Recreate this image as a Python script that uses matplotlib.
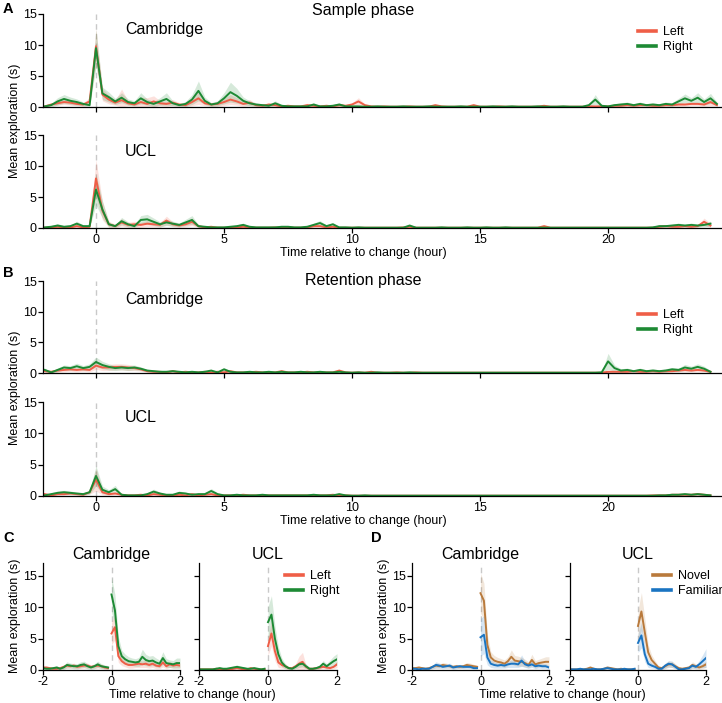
import numpy as np
import matplotlib
matplotlib.use("Agg")
import matplotlib.pyplot as plt
from matplotlib.lines import Line2D

plt.rcParams['font.family'] = ['Liberation Sans', 'DejaVu Sans']
plt.rcParams['axes.unicode_minus'] = False

nan = float('nan')

# ---------------- time grids ----------------
t_long = np.round(np.arange(-2.0, 24.26, 0.25), 2)   # 106 bins (hours)
t_pre = np.round(np.arange(-2.0, -0.05, 0.1), 2)     # 20 bins
t_post = np.round(np.arange(0.0, 2.01, 0.1), 2)      # 21 bins

long_ticks = [0, 5, 10, 15, 20]
short_ticks = [-2, 0, 2]
y_ticks = [0, 5, 10, 15]

# ---------------- Panel A: sample phase, Cambridge ----------------
a_cam_left = [0.1, 0.4, 0.6, 0.8, 0.7, 0.5, 0.4, 0.9,
              9.8, 2.0, 1.2, 0.7, 1.1, 0.6, 0.4, 0.8, 0.5, 0.9, 0.6, 0.5, 0.7, 0.4, 0.3, 0.8, 1.4, 0.6, 0.4, 0.5,
              0.8, 1.2, 0.9, 0.5, 0.7, 0.3, 0.2, 0.4, 0.3, 0.1, 0.2, 0.1, 0.1, 0.3, 0.2, 0.1, 0.2, 0.1, 0.3, 0.2,
              0.4, 0.9, 0.3, 0.1, 0.05, 0.1, 0.05, 0.05, 0.05, 0.1, 0.05, 0.05, 0.05, 0.3, 0.1, 0.05, 0.05, 0.05, 0.05, 0.3,
              0.05, 0.05, 0.05, 0.1, 0.05, 0.05, 0.05, 0.05, 0.05, 0.05, 0.2, 0.05, 0.05, 0.05, 0.05, 0.05, 0.05, 0.1,
              0.1, 0.1, 0.1, 0.2, 0.2, 0.3, 0.2, 0.3, 0.3, 0.2, 0.2, 0.3, 0.3, 0.4, 0.4, 0.5, 0.5, 0.4, 0.8, 0.3]
a_cam_left_sem = [0.1, 0.2, 0.3, 0.4, 0.4, 0.3, 0.3, 0.6,
                  2.8, 1.0, 0.7, 0.4, 1.8, 0.4, 0.3, 0.8, 1.0, 0.9, 0.4, 0.4, 0.5, 0.3, 0.2, 0.6, 1.0, 0.4, 0.3, 0.4,
                  0.6, 0.8, 0.6, 0.4, 0.5, 0.2, 0.2, 0.3, 0.2, 0.1, 0.2, 0.1, 0.1, 0.3, 0.2, 0.1, 0.2, 0.1, 0.3, 0.2,
                  0.3, 0.6, 0.2, 0.1, 0.1, 0.1, 0.1, 0.1, 0.1, 0.1, 0.1, 0.1, 0.1, 0.2, 0.1, 0.1, 0.1, 0.1, 0.1, 0.2,
                  0.1, 0.1, 0.1, 0.1, 0.1, 0.1, 0.1, 0.1, 0.1, 0.1, 0.2, 0.1, 0.1, 0.1, 0.1, 0.1, 0.1, 0.1,
                  0.1, 0.1, 0.1, 0.2, 0.2, 0.2, 0.2, 0.2, 0.2, 0.2, 0.2, 0.2, 0.2, 0.3, 0.3, 0.3, 0.3, 0.3, 0.6, 0.2]
a_cam_right = [0.1, 0.3, 0.9, 1.3, 1.0, 0.8, 0.5, 0.3,
               9.5, 2.2, 1.6, 0.9, 1.5, 0.8, 0.6, 1.4, 0.8, 0.5, 0.9, 1.3, 0.6, 0.3, 0.5, 1.2, 2.6, 1.0, 0.4, 0.6,
               1.4, 2.4, 1.8, 1.0, 0.6, 0.4, 0.3, 0.2, 0.6, 0.2, 0.1, 0.1, 0.1, 0.1, 0.4, 0.1, 0.1, 0.2, 0.4, 0.1,
               0.1, 0.1, 0.05, 0.05, 0.1, 0.05, 0.05, 0.05, 0.1, 0.05, 0.05, 0.05, 0.1, 0.05, 0.05, 0.05, 0.05, 0.1, 0.05, 0.05,
               0.05, 0.05, 0.1, 0.05, 0.05, 0.1, 0.05, 0.05, 0.05, 0.1, 0.05, 0.05, 0.05, 0.1, 0.05, 0.05, 0.05, 0.3,
               1.2, 0.2, 0.1, 0.3, 0.4, 0.5, 0.3, 0.5, 0.3, 0.4, 0.3, 0.5, 0.4, 0.9, 1.4, 1.0, 1.5, 0.8, 1.4, 0.5]
a_cam_right_sem = [0.1, 0.3, 0.6, 0.7, 0.6, 0.5, 0.3, 0.2,
                   3.0, 1.0, 0.8, 0.5, 0.8, 0.5, 0.4, 0.9, 0.5, 0.4, 0.6, 1.0, 0.4, 0.2, 0.4, 0.8, 1.6, 0.6, 0.3, 0.4,
                   0.9, 1.6, 1.2, 0.6, 0.4, 0.3, 0.2, 0.2, 0.4, 0.2, 0.1, 0.1, 0.1, 0.1, 0.3, 0.1, 0.1, 0.2, 0.3, 0.1,
                   0.1, 0.1, 0.1, 0.1, 0.1, 0.1, 0.1, 0.1, 0.1, 0.1, 0.1, 0.1, 0.1, 0.1, 0.1, 0.1, 0.1, 0.1, 0.1, 0.1,
                   0.1, 0.1, 0.1, 0.1, 0.1, 0.1, 0.1, 0.1, 0.1, 0.1, 0.1, 0.1, 0.1, 0.1, 0.1, 0.1, 0.1, 0.2,
                   0.8, 0.2, 0.1, 0.2, 0.3, 0.3, 0.2, 0.3, 0.2, 0.3, 0.2, 0.3, 0.3, 0.5, 0.7, 0.5, 0.8, 0.5, 0.8, 0.3]

# ---------------- Panel A: sample phase, UCL ----------------
a_ucl_left = [0.05, 0.1, 0.2, 0.1, 0.1, 0.3, 0.1, 0.2,
              8.0, 2.8, 0.6, 0.3, 0.9, 0.5, 0.6, 0.5, 0.7, 0.6, 0.5, 1.2, 0.6, 0.4, 0.6, 1.0, 0.3, 0.1, 0.2, 0.05,
              0.05, 0.05, 0.1, 0.2, 0.1, 0.05, 0.05, 0.05, 0.1, 0.05, 0.1, 0.05, 0.05, 0.1, 0.3, 0.3, 0.1, 0.2, 0.05, 0.05,
              0.05, 0.05, 0.05, 0.05, 0.05, 0.05, 0.05, 0.05, 0.1, 0.2, 0.05, 0.05, 0.05, 0.05, 0.05, 0.05, 0.05, 0.05, 0.05, 0.05,
              0.05, 0.05, 0.05, 0.05, 0.05, 0.05, 0.05, 0.05, 0.05, 0.05, 0.3, 0.05, 0.05, 0.05, 0.05, 0.05, 0.05, 0.05,
              0.05, 0.05, 0.05, 0.05, 0.05, 0.05, 0.05, 0.05, 0.05, 0.05, 0.2, 0.3, 0.2, 0.2, 0.3, 0.2, 0.3, 1.0, 0.4, nan]
a_ucl_left_sem = [0.1, 0.1, 0.2, 0.1, 0.1, 0.2, 0.1, 0.2,
                  3.0, 1.5, 0.5, 0.3, 0.6, 0.4, 0.5, 0.4, 0.5, 0.4, 0.4, 0.7, 0.4, 0.3, 0.4, 0.6, 0.2, 0.1, 0.1, 0.1,
                  0.1, 0.1, 0.1, 0.1, 0.1, 0.1, 0.1, 0.1, 0.1, 0.1, 0.1, 0.1, 0.1, 0.1, 0.2, 0.2, 0.1, 0.1, 0.1, 0.1,
                  0.1, 0.1, 0.1, 0.1, 0.1, 0.1, 0.1, 0.1, 0.1, 0.1, 0.1, 0.1, 0.1, 0.1, 0.1, 0.1, 0.1, 0.1, 0.1, 0.1,
                  0.1, 0.1, 0.1, 0.1, 0.1, 0.1, 0.1, 0.1, 0.1, 0.1, 0.2, 0.1, 0.1, 0.1, 0.1, 0.1, 0.1, 0.1,
                  0.1, 0.1, 0.1, 0.1, 0.1, 0.1, 0.1, 0.1, 0.1, 0.1, 0.2, 0.2, 0.2, 0.2, 0.2, 0.2, 0.2, 0.6, 0.3, nan]
a_ucl_right = [0.1, 0.2, 0.4, 0.2, 0.3, 0.7, 0.3, 0.3,
               6.2, 3.0, 0.6, 0.3, 1.1, 0.6, 0.3, 1.3, 1.4, 1.0, 0.6, 0.9, 0.7, 0.5, 0.9, 1.3, 0.3, 0.2, 0.1, 0.1,
               0.1, 0.2, 0.3, 0.5, 0.2, 0.1, 0.1, 0.1, 0.1, 0.2, 0.2, 0.1, 0.1, 0.2, 0.5, 0.8, 0.3, 0.6, 0.1, 0.1,
               0.05, 0.1, 0.05, 0.05, 0.05, 0.05, 0.05, 0.05, 0.05, 0.4, 0.05, 0.05, 0.05, 0.05, 0.1, 0.05, 0.05, 0.05, 0.1, 0.05,
               0.05, 0.1, 0.05, 0.05, 0.1, 0.05, 0.05, 0.05, 0.05, 0.05, 0.05, 0.05, 0.05, 0.05, 0.05, 0.05, 0.05, 0.05,
               0.05, 0.05, 0.05, 0.05, 0.05, 0.05, 0.05, 0.05, 0.05, 0.1, 0.3, 0.3, 0.4, 0.5, 0.4, 0.5, 0.4, 0.5, 0.7, nan]
a_ucl_right_sem = [0.1, 0.2, 0.3, 0.2, 0.2, 0.4, 0.2, 0.2,
                   2.5, 1.4, 0.4, 0.2, 0.6, 0.4, 0.2, 0.7, 0.8, 0.6, 0.4, 0.5, 0.4, 0.3, 0.5, 0.7, 0.2, 0.1, 0.1, 0.1,
                   0.1, 0.1, 0.2, 0.3, 0.1, 0.1, 0.1, 0.1, 0.1, 0.1, 0.1, 0.1, 0.1, 0.1, 0.3, 0.4, 0.2, 0.3, 0.1, 0.1,
                   0.1, 0.1, 0.1, 0.1, 0.1, 0.1, 0.1, 0.1, 0.1, 0.2, 0.1, 0.1, 0.1, 0.1, 0.1, 0.1, 0.1, 0.1, 0.1, 0.1,
                   0.1, 0.1, 0.1, 0.1, 0.1, 0.1, 0.1, 0.1, 0.1, 0.1, 0.1, 0.1, 0.1, 0.1, 0.1, 0.1, 0.1, 0.1,
                   0.1, 0.1, 0.1, 0.1, 0.1, 0.1, 0.1, 0.1, 0.1, 0.1, 0.2, 0.2, 0.2, 0.3, 0.2, 0.3, 0.2, 0.3, 0.4, nan]

# ---------------- Panel B: retention phase, Cambridge ----------------
b_cam_left = [0.3, 0.2, 0.4, 0.5, 0.6, 0.5, 0.6, 0.5,
              1.2, 0.9, 0.9, 1.0, 1.0, 0.9, 0.8, 0.6, 0.3, 0.2, 0.2, 0.1, 0.3, 0.1, 0.2, 0.1, 0.1, 0.2, 0.1, 0.2,
              0.1, 0.3, 0.1, 0.1, 0.1, 0.2, 0.1, 0.1, 0.1, 0.3, 0.1, 0.1, 0.1, 0.2, 0.1, 0.1, 0.1, 0.1, 0.4, 0.1,
              0.05, 0.1, 0.05, 0.2, 0.05, 0.05, 0.05, 0.1, 0.05, 0.05, 0.1, 0.05, 0.05, 0.05, 0.05, 0.05, 0.05, 0.05, 0.05, 0.05,
              0.05, 0.05, 0.05, 0.05, 0.05, 0.05, 0.05, 0.05, 0.05, 0.05, 0.05, 0.05, 0.05, 0.05, 0.05, 0.05, 0.05, 0.05,
              0.05, 0.05, 0.2, 0.2, 0.2, 0.2, 0.3, 0.2, 0.2, 0.3, 0.2, 0.3, 0.3, 0.4, 0.5, 0.4, 0.5, 0.4, 0.2, nan]
b_cam_left_sem = [0.2, 0.2, 0.3, 0.3, 0.3, 0.3, 0.3, 0.3,
                  0.6, 0.5, 0.5, 0.5, 0.5, 0.5, 0.4, 0.3, 0.2, 0.1, 0.1, 0.1, 0.2, 0.1, 0.1, 0.1, 0.1, 0.1, 0.1, 0.1,
                  0.1, 0.2, 0.1, 0.1, 0.1, 0.1, 0.1, 0.1, 0.1, 0.2, 0.1, 0.1, 0.1, 0.1, 0.1, 0.1, 0.1, 0.1, 0.2, 0.1,
                  0.1, 0.1, 0.1, 0.1, 0.1, 0.1, 0.1, 0.1, 0.1, 0.1, 0.1, 0.1, 0.1, 0.1, 0.1, 0.1, 0.1, 0.1, 0.1, 0.1,
                  0.1, 0.1, 0.1, 0.1, 0.1, 0.1, 0.1, 0.1, 0.1, 0.1, 0.1, 0.1, 0.1, 0.1, 0.1, 0.1, 0.1, 0.1,
                  0.1, 0.1, 0.1, 0.1, 0.1, 0.1, 0.2, 0.1, 0.1, 0.2, 0.1, 0.2, 0.2, 0.2, 0.3, 0.2, 0.3, 0.2, 0.1, nan]
b_cam_right = [0.5, 0.1, 0.5, 0.9, 0.8, 1.1, 0.8, 1.0,
               1.8, 1.3, 1.0, 0.8, 0.9, 0.8, 0.9, 0.7, 0.4, 0.3, 0.2, 0.2, 0.3, 0.2, 0.1, 0.2, 0.1, 0.2, 0.4, 0.1,
               0.6, 0.2, 0.1, 0.1, 0.2, 0.1, 0.1, 0.2, 0.1, 0.2, 0.1, 0.1, 0.2, 0.1, 0.1, 0.2, 0.1, 0.1, 0.2, 0.1,
               0.05, 0.1, 0.05, 0.05, 0.1, 0.05, 0.05, 0.05, 0.05, 0.1, 0.05, 0.05, 0.05, 0.05, 0.05, 0.05, 0.05, 0.05, 0.05, 0.05,
               0.05, 0.05, 0.05, 0.05, 0.05, 0.05, 0.05, 0.05, 0.05, 0.05, 0.05, 0.05, 0.05, 0.05, 0.05, 0.05, 0.05, 0.05,
               0.05, 0.1, 1.9, 0.8, 0.4, 0.5, 0.3, 0.5, 0.3, 0.4, 0.3, 0.4, 0.6, 0.5, 0.9, 0.7, 1.0, 0.7, 0.2, nan]
b_cam_right_sem = [0.3, 0.1, 0.3, 0.4, 0.4, 0.5, 0.4, 0.5,
                   0.8, 0.6, 0.5, 0.4, 0.4, 0.4, 0.4, 0.3, 0.2, 0.2, 0.1, 0.1, 0.2, 0.1, 0.1, 0.1, 0.1, 0.1, 0.2, 0.1,
                   0.3, 0.1, 0.1, 0.1, 0.1, 0.1, 0.1, 0.1, 0.1, 0.1, 0.1, 0.1, 0.1, 0.1, 0.1, 0.1, 0.1, 0.1, 0.1, 0.1,
                   0.1, 0.1, 0.1, 0.1, 0.1, 0.1, 0.1, 0.1, 0.1, 0.1, 0.1, 0.1, 0.1, 0.1, 0.1, 0.1, 0.1, 0.1, 0.1, 0.1,
                   0.1, 0.1, 0.1, 0.1, 0.1, 0.1, 0.1, 0.1, 0.1, 0.1, 0.1, 0.1, 0.1, 0.1, 0.1, 0.1, 0.1, 0.1,
                   0.05, 0.1, 1.3, 0.5, 0.3, 0.3, 0.2, 0.3, 0.2, 0.3, 0.2, 0.3, 0.3, 0.3, 0.5, 0.4, 0.5, 0.4, 0.2, nan]

# ---------------- Panel B: retention phase, UCL ----------------
b_ucl_left = [0.3, 0.1, 0.3, 0.3, 0.4, 0.3, 0.2, 0.6,
              2.6, 0.6, 0.3, 0.4, 0.2, 0.1, 0.1, 0.2, 0.1, 0.3, 0.2, 0.1, 0.1, 0.2, 0.1, 0.3, 0.1, 0.2, 0.3, 0.1,
              0.1, 0.1, 0.1, 0.2, 0.1, 0.1, 0.1, 0.1, 0.1, 0.1, 0.1, 0.1, 0.1, 0.1, 0.1, 0.1, 0.1, 0.2, 0.1, 0.1,
              0.05, 0.05, 0.05, 0.05, 0.05, 0.05, 0.05, 0.05, 0.05, 0.05, 0.05, 0.05, 0.05, 0.05, 0.05, 0.05, 0.05, 0.05, 0.05, 0.05,
              0.05, 0.05, 0.05, 0.05, 0.05, 0.05, 0.05, 0.05, 0.05, 0.05, 0.05, 0.05, 0.05, 0.05, 0.05, 0.05, 0.05, 0.05,
              0.05, 0.05, 0.05, 0.05, 0.05, 0.05, 0.05, 0.05, 0.05, 0.1, 0.1, 0.1, 0.2, 0.2, 0.2, 0.2, 0.3, 0.2, 0.1, nan]
b_ucl_left_sem = [0.2, 0.1, 0.2, 0.2, 0.2, 0.2, 0.1, 0.3,
                  1.8, 0.4, 0.2, 0.2, 0.1, 0.1, 0.1, 0.1, 0.1, 0.2, 0.1, 0.1, 0.1, 0.1, 0.1, 0.2, 0.1, 0.1, 0.2, 0.1,
                  0.1, 0.1, 0.1, 0.1, 0.1, 0.1, 0.1, 0.1, 0.1, 0.1, 0.1, 0.1, 0.1, 0.1, 0.1, 0.1, 0.1, 0.1, 0.1, 0.1,
                  0.1, 0.1, 0.1, 0.1, 0.1, 0.1, 0.1, 0.1, 0.1, 0.1, 0.1, 0.1, 0.1, 0.1, 0.1, 0.1, 0.1, 0.1, 0.1, 0.1,
                  0.1, 0.1, 0.1, 0.1, 0.1, 0.1, 0.1, 0.1, 0.1, 0.1, 0.1, 0.1, 0.1, 0.1, 0.1, 0.1, 0.1, 0.1,
                  0.1, 0.1, 0.1, 0.1, 0.1, 0.1, 0.1, 0.1, 0.1, 0.1, 0.1, 0.1, 0.1, 0.1, 0.1, 0.1, 0.2, 0.1, 0.1, nan]
b_ucl_right = [0.1, 0.3, 0.5, 0.6, 0.5, 0.4, 0.3, 0.6,
               3.2, 1.0, 0.6, 1.1, 0.2, 0.1, 0.1, 0.1, 0.3, 0.7, 0.4, 0.2, 0.2, 0.5, 0.4, 0.2, 0.3, 0.3, 0.8, 0.3,
               0.1, 0.1, 0.2, 0.1, 0.1, 0.1, 0.2, 0.1, 0.1, 0.1, 0.1, 0.1, 0.1, 0.1, 0.2, 0.1, 0.1, 0.1, 0.3, 0.1,
               0.05, 0.05, 0.1, 0.05, 0.05, 0.05, 0.05, 0.05, 0.05, 0.05, 0.05, 0.05, 0.05, 0.05, 0.05, 0.05, 0.05, 0.05, 0.05, 0.05,
               0.05, 0.05, 0.05, 0.05, 0.05, 0.05, 0.05, 0.05, 0.05, 0.05, 0.05, 0.05, 0.05, 0.05, 0.05, 0.05, 0.05, 0.05,
               0.05, 0.05, 0.05, 0.05, 0.05, 0.05, 0.05, 0.05, 0.05, 0.05, 0.1, 0.1, 0.2, 0.2, 0.3, 0.2, 0.3, 0.2, 0.1, nan]
b_ucl_right_sem = [0.1, 0.2, 0.3, 0.3, 0.3, 0.2, 0.2, 0.3,
                   1.6, 0.6, 0.4, 0.6, 0.1, 0.1, 0.1, 0.1, 0.2, 0.4, 0.2, 0.1, 0.1, 0.3, 0.2, 0.1, 0.2, 0.2, 0.4, 0.2,
                   0.1, 0.1, 0.1, 0.1, 0.1, 0.1, 0.1, 0.1, 0.1, 0.1, 0.1, 0.1, 0.1, 0.1, 0.1, 0.1, 0.1, 0.1, 0.2, 0.1,
                   0.1, 0.1, 0.1, 0.1, 0.1, 0.1, 0.1, 0.1, 0.1, 0.1, 0.1, 0.1, 0.1, 0.1, 0.1, 0.1, 0.1, 0.1, 0.1, 0.1,
                   0.1, 0.1, 0.1, 0.1, 0.1, 0.1, 0.1, 0.1, 0.1, 0.1, 0.1, 0.1, 0.1, 0.1, 0.1, 0.1, 0.1, 0.1,
                   0.1, 0.1, 0.1, 0.1, 0.1, 0.1, 0.1, 0.1, 0.1, 0.1, 0.1, 0.1, 0.1, 0.1, 0.2, 0.1, 0.2, 0.1, 0.1, nan]

# ---------------- Panel C: zoom on change, Left / Right ----------------
c_cam_left_pre = [0.4, 0.4, 0.3, 0.2, 0.2, 0.3, 0.5, 0.7, 0.6, 0.7, 0.5, 0.6, 0.7, 0.7, 0.5, 0.6, 0.7, 0.6, 0.4, 0.3]
c_cam_left_pre_sem = [0.2, 0.2, 0.2, 0.2, 0.2, 0.2, 0.3, 0.4, 0.3, 0.4, 0.3, 0.3, 0.4, 0.4, 0.3, 0.3, 0.4, 0.3, 0.3, 0.2]
c_cam_left_post = [5.8, 6.8, 2.2, 1.4, 1.0, 0.8, 0.8, 0.9, 1.0, 0.9, 1.0, 0.8, 1.0, 0.7, 0.6, 1.2, 0.6, 0.9, 0.7, 0.8, 0.7]
c_cam_left_post_sem = [1.8, 2.0, 1.0, 0.7, 0.5, 0.5, 0.5, 0.5, 0.6, 0.5, 0.6, 0.5, 0.6, 0.5, 0.4, 0.7, 0.4, 0.5, 0.4, 0.5, 0.4]
c_cam_right_pre = [0.3, 0.2, 0.2, 0.3, 0.4, 0.2, 0.4, 0.8, 0.7, 0.6, 0.6, 0.8, 0.9, 0.6, 0.4, 0.6, 0.9, 0.6, 0.5, 0.4]
c_cam_right_pre_sem = [0.2, 0.2, 0.2, 0.2, 0.3, 0.2, 0.3, 0.5, 0.4, 0.4, 0.4, 0.5, 0.5, 0.4, 0.3, 0.4, 0.5, 0.4, 0.3, 0.3]
c_cam_right_post = [12.0, 9.5, 3.8, 2.2, 1.7, 1.4, 1.3, 1.2, 1.3, 2.1, 1.6, 1.4, 1.5, 1.2, 1.0, 1.9, 1.1, 1.0, 0.9, 1.1, 1.1]
c_cam_right_post_sem = [2.8, 2.5, 1.5, 0.9, 0.8, 0.7, 0.6, 0.6, 0.7, 1.2, 0.9, 0.8, 0.8, 0.7, 0.6, 1.0, 0.7, 0.6, 0.6, 0.8, 0.8]

c_ucl_left_pre = [0.1, 0.1, 0.1, 0.1, 0.1, 0.2, 0.1, 0.1, 0.1, 0.1, 0.2, 0.3, 0.2, 0.1, 0.1, 0.3, 0.2, 0.1, 0.1, 0.1]
c_ucl_left_pre_sem = [0.1, 0.1, 0.1, 0.1, 0.1, 0.1, 0.1, 0.1, 0.1, 0.1, 0.1, 0.2, 0.1, 0.1, 0.1, 0.2, 0.1, 0.1, 0.1, 0.1]
c_ucl_left_post = [3.8, 5.8, 3.0, 1.2, 0.8, 0.6, 0.3, 0.3, 0.6, 1.0, 1.3, 0.5, 0.2, 0.2, 0.3, 0.4, 0.5, 0.4, 0.3, 0.5, 0.9]
c_ucl_left_post_sem = [1.5, 2.0, 1.5, 0.8, 0.5, 0.4, 0.2, 0.2, 0.4, 1.2, 1.5, 0.3, 0.2, 0.2, 0.2, 0.3, 0.3, 0.3, 0.2, 0.3, 0.5]
c_ucl_right_pre = [0.1, 0.1, 0.1, 0.1, 0.1, 0.2, 0.3, 0.2, 0.2, 0.3, 0.4, 0.5, 0.4, 0.3, 0.2, 0.2, 0.3, 0.2, 0.1, 0.2]
c_ucl_right_pre_sem = [0.1, 0.1, 0.1, 0.1, 0.1, 0.1, 0.2, 0.1, 0.1, 0.2, 0.2, 0.3, 0.2, 0.2, 0.1, 0.1, 0.2, 0.1, 0.1, 0.1]
c_ucl_right_post = [7.6, 8.8, 5.0, 2.5, 1.2, 0.6, 0.3, 0.2, 0.5, 0.9, 1.0, 0.6, 0.2, 0.2, 0.3, 0.5, 1.0, 0.6, 1.0, 1.4, 1.7]
c_ucl_right_post_sem = [2.5, 3.0, 2.0, 1.2, 0.7, 0.4, 0.2, 0.2, 0.3, 0.5, 0.5, 0.4, 0.2, 0.2, 0.2, 0.3, 0.5, 0.4, 0.6, 0.8, 0.9]

# ---------------- Panel D: zoom on change, Novel / Familiar ----------------
d_cam_novel_pre = [0.3, 0.3, 0.4, 0.3, 0.2, 0.3, 0.5, 0.7, 0.6, 0.8, 0.7, 0.6, 0.5, 0.6, 0.5, 0.6, 0.8, 0.7, 0.6, 0.5]
d_cam_novel_pre_sem = [0.2, 0.2, 0.2, 0.2, 0.2, 0.2, 0.3, 0.4, 0.3, 0.4, 0.4, 0.3, 0.3, 0.3, 0.3, 0.3, 0.4, 0.4, 0.3, 0.3]
d_cam_novel_post = [12.2, 11.0, 4.0, 2.0, 1.5, 1.3, 1.2, 1.0, 1.4, 2.1, 1.5, 1.4, 1.3, 1.1, 0.8, 1.6, 0.9, 1.1, 1.2, 1.3, 1.3]
d_cam_novel_post_sem = [3.2, 2.8, 1.6, 0.9, 0.8, 0.7, 0.6, 0.6, 0.7, 1.1, 0.8, 0.8, 0.7, 0.6, 0.5, 0.9, 0.6, 0.6, 0.7, 0.8, 0.8]
d_cam_fam_pre = [0.2, 0.2, 0.1, 0.2, 0.2, 0.2, 0.5, 0.8, 0.7, 0.5, 0.6, 0.7, 0.4, 0.5, 0.6, 0.5, 0.5, 0.5, 0.3, 0.3]
d_cam_fam_pre_sem = [0.1, 0.1, 0.1, 0.1, 0.1, 0.1, 0.3, 0.5, 0.4, 0.3, 0.3, 0.4, 0.3, 0.3, 0.3, 0.3, 0.3, 0.3, 0.2, 0.2]
d_cam_fam_post = [5.2, 5.6, 2.0, 1.0, 0.8, 0.7, 0.8, 0.7, 0.9, 1.0, 1.0, 0.9, 1.5, 0.9, 0.7, 0.9, 0.6, 0.7, 0.6, 0.6, 0.4]
d_cam_fam_post_sem = [3.0, 3.0, 1.2, 0.6, 0.5, 0.4, 0.5, 0.4, 0.5, 0.6, 0.6, 0.5, 0.9, 0.5, 0.4, 0.5, 0.4, 0.4, 0.4, 0.4, 0.3]

d_ucl_novel_pre = [0.1, 0.1, 0.1, 0.1, 0.1, 0.2, 0.4, 0.2, 0.1, 0.1, 0.2, 0.4, 0.3, 0.2, 0.1, 0.2, 0.1, 0.1, 0.1, 0.1]
d_ucl_novel_pre_sem = [0.1, 0.1, 0.1, 0.1, 0.1, 0.1, 0.2, 0.1, 0.1, 0.1, 0.1, 0.2, 0.2, 0.1, 0.1, 0.1, 0.1, 0.1, 0.1, 0.1]
d_ucl_novel_post = [7.0, 9.3, 6.0, 2.8, 1.6, 1.0, 0.4, 0.3, 0.6, 0.9, 0.9, 0.6, 0.3, 0.2, 0.3, 0.4, 0.8, 0.6, 0.4, 0.6, 0.9]
d_ucl_novel_post_sem = [2.5, 3.0, 2.2, 1.2, 0.8, 0.5, 0.3, 0.2, 0.4, 0.5, 0.5, 0.4, 0.2, 0.2, 0.2, 0.3, 0.5, 0.4, 0.3, 0.4, 0.5]
d_ucl_fam_pre = [0.1, 0.1, 0.1, 0.2, 0.1, 0.1, 0.1, 0.2, 0.1, 0.1, 0.2, 0.3, 0.2, 0.1, 0.1, 0.1, 0.2, 0.1, 0.1, 0.2]
d_ucl_fam_pre_sem = [0.1, 0.1, 0.1, 0.1, 0.1, 0.1, 0.1, 0.1, 0.1, 0.1, 0.1, 0.2, 0.1, 0.1, 0.1, 0.1, 0.1, 0.1, 0.1, 0.1]
d_ucl_fam_post = [4.3, 5.5, 2.5, 1.0, 0.7, 0.5, 0.2, 0.2, 0.7, 1.0, 0.9, 0.5, 0.1, 0.1, 0.2, 0.3, 0.7, 0.5, 0.9, 1.4, 1.9]
d_ucl_fam_post_sem = [1.5, 2.0, 1.2, 0.6, 0.4, 0.3, 0.2, 0.2, 0.4, 0.5, 0.5, 0.3, 0.1, 0.1, 0.2, 0.3, 0.4, 0.3, 0.6, 1.0, 1.5]

for arr in [a_cam_left, a_cam_left_sem, a_cam_right, a_cam_right_sem, a_ucl_left, a_ucl_left_sem,
            a_ucl_right, a_ucl_right_sem, b_cam_left, b_cam_left_sem, b_cam_right, b_cam_right_sem,
            b_ucl_left, b_ucl_left_sem, b_ucl_right, b_ucl_right_sem]:
    assert len(arr) == len(t_long), len(arr)

# ---------------- styling ----------------
LEFT_C = '#EF5E47'
RIGHT_C = '#1D8A34'
NOVEL_C = '#B97A3C'
FAM_C = '#1A74C2'
DASH_C = '#C9C9C9'

W, H = 722, 703
fig = plt.figure(figsize=(W / 100, H / 100), dpi=100)


def px_axes(x0, y0, x1, y1):
    return fig.add_axes([x0 / W, 1 - y1 / H, (x1 - x0) / W, (y1 - y0) / H])


def draw(ax, t, m, s, color):
    m = np.asarray(m, float)
    s = np.asarray(s, float)
    ax.fill_between(t, np.clip(m - s, 0, None), m + s, color=color, alpha=0.18, linewidth=0)
    ax.plot(t, m, color=color, lw=1.4)


def style(ax, xlim, ylim, xticks, xlab=True, ylab=True):
    for s in ['top', 'right']:
        ax.spines[s].set_visible(False)
    for s in ['left', 'bottom']:
        ax.spines[s].set_linewidth(0.9)
    ax.set_xlim(*xlim)
    ax.set_ylim(*ylim)
    ax.set_xticks(xticks)
    ax.set_yticks(y_ticks)
    ax.tick_params(direction='out', length=3.5, width=0.9, labelsize=9, pad=1.0,
                   labelbottom=xlab, labelleft=ylab)
    ax.axvline(0, color=DASH_C, lw=1.0, ls=(0, (4, 3)), zorder=0)


LONG_XLIM = (-2.07, 24.41)

# Panel A
ax_a1 = px_axes(43, 14, 721, 107)
ax_a2 = px_axes(43, 135, 721, 228)
# Panel B
ax_b1 = px_axes(43, 281, 721, 373)
ax_b2 = px_axes(43, 402, 721, 496)

long_sets = [
    (ax_a1, a_cam_left, a_cam_left_sem, a_cam_right, a_cam_right_sem, 'Cambridge', 0.83, False),
    (ax_a2, a_ucl_left, a_ucl_left_sem, a_ucl_right, a_ucl_right_sem, 'UCL', 0.82, True),
    (ax_b1, b_cam_left, b_cam_left_sem, b_cam_right, b_cam_right_sem, 'Cambridge', 0.80, False),
    (ax_b2, b_ucl_left, b_ucl_left_sem, b_ucl_right, b_ucl_right_sem, 'UCL', 0.84, True),
]
for ax, ml, sl, mr, sr, name, ty, xlab in long_sets:
    style(ax, LONG_XLIM, (0, 15), long_ticks, xlab=xlab)
    draw(ax, t_long, ml, sl, LEFT_C)
    draw(ax, t_long, mr, sr, RIGHT_C)
    ax.text(0.121, ty, name, transform=ax.transAxes, ha='left', va='center', fontsize=11.5)

# Panel C and D
ax_c1 = px_axes(43, 563, 180, 670)
ax_c2 = px_axes(199, 563, 337, 670)
ax_d1 = px_axes(412, 563, 549, 670)
ax_d2 = px_axes(570, 563, 706, 670)

short_sets = [
    (ax_c1, [(c_cam_left_pre, c_cam_left_pre_sem, c_cam_left_post, c_cam_left_post_sem, LEFT_C),
             (c_cam_right_pre, c_cam_right_pre_sem, c_cam_right_post, c_cam_right_post_sem, RIGHT_C)],
     'Cambridge', True),
    (ax_c2, [(c_ucl_left_pre, c_ucl_left_pre_sem, c_ucl_left_post, c_ucl_left_post_sem, LEFT_C),
             (c_ucl_right_pre, c_ucl_right_pre_sem, c_ucl_right_post, c_ucl_right_post_sem, RIGHT_C)],
     'UCL', False),
    (ax_d1, [(d_cam_novel_pre, d_cam_novel_pre_sem, d_cam_novel_post, d_cam_novel_post_sem, NOVEL_C),
             (d_cam_fam_pre, d_cam_fam_pre_sem, d_cam_fam_post, d_cam_fam_post_sem, FAM_C)],
     'Cambridge', True),
    (ax_d2, [(d_ucl_novel_pre, d_ucl_novel_pre_sem, d_ucl_novel_post, d_ucl_novel_post_sem, NOVEL_C),
             (d_ucl_fam_pre, d_ucl_fam_pre_sem, d_ucl_fam_post, d_ucl_fam_post_sem, FAM_C)],
     'UCL', False),
]
for ax, series, name, ylab in short_sets:
    style(ax, (-2, 2), (0, 17), short_ticks, ylab=ylab)
    for mpre, spre, mpost, spost, col in series:
        draw(ax, t_pre, mpre, spre, col)
        draw(ax, t_post, mpost, spost, col)
    ax.set_title(name, fontsize=11.5, pad=3)

# ---------------- text ----------------
fs_lab = 9
fig.text(15 / W, 1 - 121 / H, 'Mean exploration (s)', rotation=90, ha='center', va='center', fontsize=fs_lab)
fig.text(15 / W, 1 - 388 / H, 'Mean exploration (s)', rotation=90, ha='center', va='center', fontsize=fs_lab)
fig.text(15 / W, 1 - 616 / H, 'Mean exploration (s)', rotation=90, ha='center', va='center', fontsize=fs_lab)
fig.text(384 / W, 1 - 616 / H, 'Mean exploration (s)', rotation=90, ha='center', va='center', fontsize=fs_lab)

fig.text(363 / W, 1 - 253 / H, 'Time relative to change (hour)', ha='center', va='center', fontsize=fs_lab)
fig.text(363 / W, 1 - 521 / H, 'Time relative to change (hour)', ha='center', va='center', fontsize=fs_lab)
fig.text(192 / W, 1 - 695 / H, 'Time relative to change (hour)', ha='center', va='center', fontsize=fs_lab)
fig.text(562 / W, 1 - 695 / H, 'Time relative to change (hour)', ha='center', va='center', fontsize=fs_lab)

fig.text(363 / W, 1 - 11 / H, 'Sample phase', ha='center', va='center', fontsize=11.5)
fig.text(363 / W, 1 - 280 / H, 'Retention phase', ha='center', va='center', fontsize=11.5)

for letter, x, y in [('A', 3, 9), ('B', 3, 273), ('C', 3, 538), ('D', 371, 538)]:
    fig.text(x / W, 1 - y / H, letter, ha='left', va='center', fontsize=10.5, fontweight='bold')

# ---------------- legends ----------------
def legend(labels, colors, x, y):
    handles = [Line2D([], [], color=c, lw=2.6) for c in colors]
    fig.legend(handles, labels, loc='upper left', bbox_to_anchor=(x / W, 1 - y / H),
               frameon=False, fontsize=9, handlelength=1.45, handletextpad=0.55,
               labelspacing=0.25, borderpad=0, borderaxespad=0)


legend(['Left', 'Right'], [LEFT_C, RIGHT_C], 638, 26)
legend(['Left', 'Right'], [LEFT_C, RIGHT_C], 638, 309)
legend(['Left', 'Right'], [LEFT_C, RIGHT_C], 285, 570)
legend(['Novel', 'Familiar'], [NOVEL_C, FAM_C], 653, 570)

fig.savefig('out.png', dpi=100)
